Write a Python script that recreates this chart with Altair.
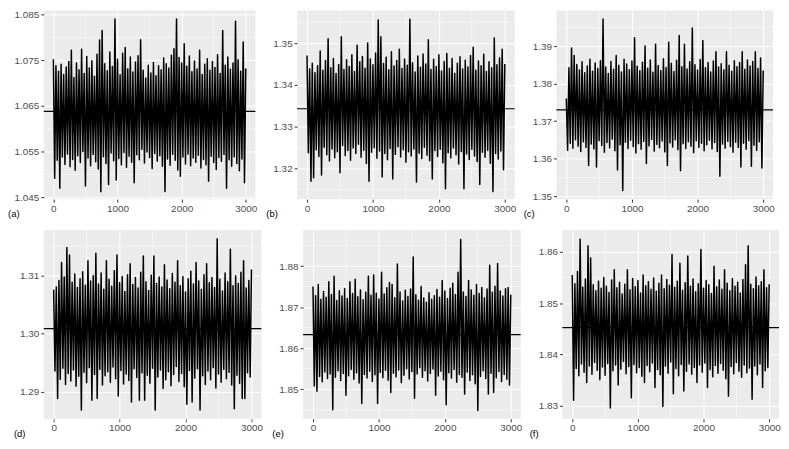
import altair as alt
import pandas as pd

# ---------------- data ----------------
X_TICKS = [0, 1000, 2000, 3000]
X_MINOR = [500, 1500, 2500]
STEP = 20  # iteration spacing of the sampled trace values

TAGS = ["(a)", "(b)", "(c)", "(d)", "(e)", "(f)"]
MEANS = [1.0638, 1.3343, 1.3730, 1.3008, 1.8633, 1.8452]
Y_DOMAINS = [[1.0446, 1.0859], [1.3127, 1.3578], [1.3492, 1.3995],
             [1.2853, 1.3178], [1.8428, 1.8888], [1.8274, 1.8643]]
Y_TICKS = [[1.045, 1.055, 1.065, 1.075, 1.085],
           [1.32, 1.33, 1.34, 1.35],
           [1.35, 1.36, 1.37, 1.38, 1.39],
           [1.29, 1.30, 1.31],
           [1.85, 1.86, 1.87, 1.88],
           [1.83, 1.84, 1.85, 1.86]]
Y_MINOR = [[1.050, 1.060, 1.070, 1.080],
           [1.315, 1.325, 1.335, 1.345, 1.355],
           [1.355, 1.365, 1.375, 1.385, 1.395],
           [1.285, 1.295, 1.305, 1.315],
           [1.845, 1.855, 1.865, 1.875, 1.885],
           [1.835, 1.845, 1.855]]
Y_FORMATS = [".3f", ".2f", ".2f", ".2f", ".2f", ".2f"]

# upper excursions (iterations 0, 40, ..., 3000) and lower excursions (20, 60, ..., 2980)
a_hi = [1.0752, 1.0738, 1.0726, 1.0741, 1.0719, 1.0735, 1.0747, 1.0772, 1.0712, 1.0744,
        1.0729, 1.0774, 1.0721, 1.0758, 1.0733, 1.0749, 1.0715, 1.0763, 1.0794, 1.0815,
        1.0742, 1.0727, 1.0768, 1.0736, 1.0840, 1.0752, 1.0718, 1.0765, 1.0778, 1.0731,
        1.0757, 1.0724, 1.0746, 1.0760, 1.0795, 1.0728, 1.0711, 1.0739, 1.0722, 1.0745,
        1.0716, 1.0738, 1.0729, 1.0755, 1.0742, 1.0733, 1.0761, 1.0775, 1.0840, 1.0756,
        1.0744, 1.0786, 1.0737, 1.0759, 1.0725, 1.0748, 1.0731, 1.0772, 1.0719, 1.0741,
        1.0753, 1.0728, 1.0747, 1.0734, 1.0762, 1.0721, 1.0815, 1.0739, 1.0757, 1.0730,
        1.0744, 1.0835, 1.0751, 1.0726, 1.0790, 1.0732]
a_lo = [1.0492, 1.0531, 1.0470, 1.0538, 1.0522, 1.0545, 1.0517, 1.0533, 1.0509, 1.0541,
        1.0526, 1.0550, 1.0475, 1.0536, 1.0519, 1.0544, 1.0528, 1.0512, 1.0462, 1.0539,
        1.0524, 1.0478, 1.0547, 1.0530, 1.0488, 1.0535, 1.0521, 1.0548, 1.0516, 1.0540,
        1.0527, 1.0482, 1.0543, 1.0532, 1.0555, 1.0525, 1.0549, 1.0537, 1.0513, 1.0546,
        1.0529, 1.0541, 1.0518, 1.0463, 1.0534, 1.0520, 1.0544, 1.0531, 1.0510, 1.0496,
        1.0538, 1.0523, 1.0545, 1.0519, 1.0536, 1.0527, 1.0542, 1.0514, 1.0533, 1.0521,
        1.0485, 1.0540, 1.0526, 1.0511, 1.0537, 1.0529, 1.0544, 1.0470, 1.0532, 1.0518,
        1.0539, 1.0524, 1.0508, 1.0534, 1.0482]

b_hi = [1.3470, 1.3438, 1.3452, 1.3429, 1.3446, 1.3481, 1.3435, 1.3458, 1.3510, 1.3441,
        1.3463, 1.3427, 1.3449, 1.3515, 1.3437, 1.3460, 1.3444, 1.3472, 1.3432, 1.3495,
        1.3455, 1.3468, 1.3440, 1.3500, 1.3462, 1.3448, 1.3476, 1.3555, 1.3515, 1.3451,
        1.3466, 1.3436, 1.3479, 1.3445, 1.3458, 1.3485, 1.3439, 1.3462, 1.3447, 1.3557,
        1.3453, 1.3431, 1.3469, 1.3442, 1.3474, 1.3450, 1.3508, 1.3437, 1.3461, 1.3444,
        1.3472, 1.3433, 1.3456, 1.3475, 1.3440, 1.3463, 1.3428, 1.3452, 1.3467, 1.3438,
        1.3459, 1.3443, 1.3470, 1.3490, 1.3435, 1.3457, 1.3446, 1.3473, 1.3432, 1.3455,
        1.3441, 1.3512, 1.3448, 1.3464, 1.3485, 1.3450]
b_lo = [1.3238, 1.3170, 1.3178, 1.3245, 1.3229, 1.3185, 1.3251, 1.3233, 1.3218, 1.3247,
        1.3226, 1.3240, 1.3190, 1.3255, 1.3231, 1.3243, 1.3220, 1.3249, 1.3236, 1.3258,
        1.3227, 1.3244, 1.3212, 1.3170, 1.3239, 1.3250, 1.3225, 1.3242, 1.3180, 1.3236,
        1.3221, 1.3248, 1.3175, 1.3234, 1.3252, 1.3228, 1.3245, 1.3215, 1.3240, 1.3230,
        1.3247, 1.3168, 1.3237, 1.3224, 1.3251, 1.3232, 1.3219, 1.3175, 1.3243, 1.3229,
        1.3246, 1.3214, 1.3152, 1.3238, 1.3226, 1.3249, 1.3233, 1.3211, 1.3241, 1.3152,
        1.3235, 1.3222, 1.3246, 1.3230, 1.3217, 1.3162, 1.3239, 1.3227, 1.3244, 1.3213,
        1.3145, 1.3236, 1.3223, 1.3242, 1.3197]

c_hi = [1.3760, 1.3842, 1.3895, 1.3875, 1.3851, 1.3836, 1.3858, 1.3829, 1.3847, 1.3865,
        1.3833, 1.3855, 1.3840, 1.3861, 1.3972, 1.3844, 1.3827, 1.3859, 1.3838, 1.3875,
        1.3849, 1.3831, 1.3865, 1.3852, 1.3837, 1.3860, 1.3922, 1.3846, 1.3834, 1.3857,
        1.3900, 1.3841, 1.3863, 1.3830, 1.3905, 1.3848, 1.3835, 1.3866, 1.3843, 1.3910,
        1.3854, 1.3832, 1.3862, 1.3928, 1.3845, 1.3905, 1.3839, 1.3858, 1.3948, 1.3850,
        1.3836, 1.3864, 1.3915, 1.3842, 1.3856, 1.3831, 1.3860, 1.3885, 1.3844, 1.3853,
        1.3837, 1.3885, 1.3849, 1.3833, 1.3861, 1.3845, 1.3856, 1.3885, 1.3838, 1.3863,
        1.3847, 1.3859, 1.3885, 1.3840, 1.3868, 1.3835]
c_lo = [1.3622, 1.3641, 1.3628, 1.3650, 1.3633, 1.3619, 1.3645, 1.3630, 1.3582, 1.3639,
        1.3626, 1.3578, 1.3648, 1.3635, 1.3617, 1.3643, 1.3629, 1.3652, 1.3621, 1.3570,
        1.3637, 1.3515, 1.3644, 1.3627, 1.3649, 1.3632, 1.3615, 1.3640, 1.3625, 1.3646,
        1.3587, 1.3634, 1.3651, 1.3620, 1.3638, 1.3629, 1.3647, 1.3618, 1.3582, 1.3642,
        1.3631, 1.3650, 1.3624, 1.3568, 1.3640, 1.3627, 1.3645, 1.3633, 1.3616, 1.3648,
        1.3630, 1.3641, 1.3621, 1.3637, 1.3649, 1.3626, 1.3643, 1.3619, 1.3553, 1.3639,
        1.3628, 1.3646, 1.3632, 1.3617, 1.3644, 1.3630, 1.3578, 1.3641, 1.3625, 1.3648,
        1.3580, 1.3636, 1.3622, 1.3645, 1.3575]

d_hi = [1.3075, 1.3080, 1.3091, 1.3122, 1.3097, 1.3148, 1.3135, 1.3088, 1.3102, 1.3079,
        1.3094, 1.3106, 1.3083, 1.3125, 1.3090, 1.3099, 1.3138, 1.3085, 1.3104, 1.3076,
        1.3125, 1.3093, 1.3081, 1.3108, 1.3135, 1.3087, 1.3098, 1.3072, 1.3101, 1.3120,
        1.3084, 1.3096, 1.3078, 1.3105, 1.3133, 1.3089, 1.3074, 1.3100, 1.3133, 1.3086,
        1.3097, 1.3080, 1.3118, 1.3092, 1.3077, 1.3103, 1.3088, 1.3125, 1.3082, 1.3098,
        1.3071, 1.3094, 1.3107, 1.3085, 1.3122, 1.3090, 1.3076, 1.3101, 1.3120, 1.3087,
        1.3096, 1.3079, 1.3163, 1.3093, 1.3073, 1.3104, 1.3089, 1.3145, 1.3082, 1.3099,
        1.3086, 1.3105, 1.3125, 1.3078, 1.3091, 1.3110]
d_lo = [1.2935, 1.2888, 1.2921, 1.2940, 1.2912, 1.2931, 1.2918, 1.2937, 1.2909, 1.2926,
        1.2868, 1.2933, 1.2915, 1.2941, 1.2885, 1.2929, 1.2888, 1.2938, 1.2911, 1.2927,
        1.2934, 1.2916, 1.2942, 1.2922, 1.2892, 1.2936, 1.2913, 1.2930, 1.2919, 1.2882,
        1.2939, 1.2924, 1.2885, 1.2932, 1.2885, 1.2928, 1.2914, 1.2940, 1.2868, 1.2925,
        1.2937, 1.2905, 1.2920, 1.2934, 1.2910, 1.2929, 1.2943, 1.2917, 1.2931, 1.2908,
        1.2878, 1.2936, 1.2882, 1.2923, 1.2939, 1.2868, 1.2927, 1.2912, 1.2935, 1.2920,
        1.2941, 1.2906, 1.2930, 1.2916, 1.2938, 1.2922, 1.2933, 1.2911, 1.2870, 1.2928,
        1.2914, 1.2888, 1.2888, 1.2932, 1.2925]

e_hi = [1.8750, 1.8728, 1.8755, 1.8719, 1.8738, 1.8724, 1.8762, 1.8731, 1.8775, 1.8716,
        1.8740, 1.8727, 1.8745, 1.8721, 1.8762, 1.8733, 1.8768, 1.8725, 1.8742, 1.8718,
        1.8736, 1.8775, 1.8729, 1.8778, 1.8734, 1.8720, 1.8785, 1.8732, 1.8747, 1.8760,
        1.8755, 1.8723, 1.8805, 1.8737, 1.8715, 1.8741, 1.8726, 1.8744, 1.8822, 1.8730,
        1.8717, 1.8750, 1.8722, 1.8712, 1.8735, 1.8719, 1.8728, 1.8743, 1.8724, 1.8765,
        1.8739, 1.8721, 1.8746, 1.8758, 1.8731, 1.8785, 1.8865, 1.8737, 1.8726, 1.8765,
        1.8742, 1.8729, 1.8755, 1.8733, 1.8748, 1.8722, 1.8744, 1.8802, 1.8736, 1.8751,
        1.8806, 1.8739, 1.8727, 1.8745, 1.8748, 1.8730]
e_lo = [1.8508, 1.8495, 1.8531, 1.8518, 1.8542, 1.8526, 1.8537, 1.8450, 1.8529, 1.8545,
        1.8521, 1.8538, 1.8485, 1.8533, 1.8548, 1.8524, 1.8540, 1.8515, 1.8465, 1.8536,
        1.8527, 1.8544, 1.8519, 1.8535, 1.8465, 1.8541, 1.8528, 1.8546, 1.8522, 1.8492,
        1.8539, 1.8530, 1.8547, 1.8516, 1.8534, 1.8550, 1.8525, 1.8543, 1.8478, 1.8537,
        1.8552, 1.8529, 1.8545, 1.8520, 1.8538, 1.8549, 1.8485, 1.8532, 1.8544, 1.8523,
        1.8462, 1.8540, 1.8527, 1.8548, 1.8517, 1.8536, 1.8529, 1.8488, 1.8542, 1.8521,
        1.8535, 1.8513, 1.8448, 1.8531, 1.8545, 1.8526, 1.8488, 1.8539, 1.8492, 1.8528,
        1.8543, 1.8519, 1.8536, 1.8524, 1.8510]

f_hi = [1.8555, 1.8538, 1.8562, 1.8625, 1.8531, 1.8547, 1.8612, 1.8588, 1.8536, 1.8524,
        1.8543, 1.8529, 1.8550, 1.8533, 1.8521, 1.8545, 1.8565, 1.8530, 1.8541, 1.8518,
        1.8537, 1.8565, 1.8526, 1.8548, 1.8532, 1.8544, 1.8520, 1.8555, 1.8534, 1.8542,
        1.8527, 1.8549, 1.8523, 1.8539, 1.8555, 1.8528, 1.8546, 1.8535, 1.8595, 1.8531,
        1.8543, 1.8578, 1.8525, 1.8540, 1.8592, 1.8533, 1.8547, 1.8522, 1.8538, 1.8605,
        1.8529, 1.8544, 1.8536, 1.8519, 1.8572, 1.8532, 1.8545, 1.8527, 1.8565, 1.8539,
        1.8524, 1.8548, 1.8533, 1.8541, 1.8520, 1.8546, 1.8575, 1.8612, 1.8537, 1.8528,
        1.8551, 1.8534, 1.8542, 1.8565, 1.8530, 1.8537]
f_lo = [1.8310, 1.8372, 1.8358, 1.8381, 1.8365, 1.8345, 1.8377, 1.8361, 1.8384, 1.8369,
        1.8350, 1.8375, 1.8359, 1.8382, 1.8295, 1.8368, 1.8379, 1.8340, 1.8371, 1.8386,
        1.8362, 1.8376, 1.8315, 1.8380, 1.8364, 1.8374, 1.8357, 1.8345, 1.8378, 1.8366,
        1.8383, 1.8335, 1.8370, 1.8360, 1.8298, 1.8377, 1.8363, 1.8385, 1.8323, 1.8372,
        1.8358, 1.8380, 1.8328, 1.8367, 1.8381, 1.8361, 1.8374, 1.8345, 1.8379, 1.8365,
        1.8383, 1.8335, 1.8370, 1.8356, 1.8378, 1.8363, 1.8382, 1.8369, 1.8352, 1.8318,
        1.8376, 1.8362, 1.8384, 1.8367, 1.8355, 1.8379, 1.8364, 1.8373, 1.8312, 1.8377,
        1.8360, 1.8381, 1.8335, 1.8368, 1.8374]

HIS = [a_hi, b_hi, c_hi, d_hi, e_hi, f_hi]
LOS = [a_lo, b_lo, c_lo, d_lo, e_lo, f_lo]

# ---------------- layout ----------------
WIDTHS = [213, 219, 218, 219, 219, 218]
HEIGHT = 190
TAG_DX = [36, 31, 33, 30, 31, 33]
FONT = "Liberation Sans"


def trace_frame(hi, lo):
    xs, ys = [], []
    for k in range(len(lo)):
        xs += [2 * STEP * k, 2 * STEP * k + STEP]
        ys += [hi[k], lo[k]]
    xs.append(2 * STEP * len(lo))
    ys.append(hi[len(lo)])
    return pd.DataFrame({"x": xs, "y": ys})


def panel(i):
    xscale = alt.Scale(domain=[-150, 3150], nice=False, zero=False)
    yscale = alt.Scale(domain=Y_DOMAINS[i], nice=False, zero=False)
    xaxis = alt.Axis(values=X_TICKS, format="d", title=None, grid=True,
                     gridColor="white", gridWidth=1.0, domain=False,
                     tickColor="#333333", tickSize=3, tickWidth=1,
                     labelColor="#4D4D4D", labelFontSize=10, labelFont=FONT,
                     labelPadding=1, labelFlush=False, labelOverlap=False)
    yaxis = alt.Axis(values=Y_TICKS[i], format=Y_FORMATS[i], title=None, grid=True,
                     gridColor="white", gridWidth=1.0, domain=False,
                     tickColor="#333333", tickSize=3, tickWidth=1,
                     labelColor="#4D4D4D", labelFontSize=10, labelFont=FONT,
                     labelPadding=2, labelFlush=False, labelOverlap=False)
    W = WIDTHS[i]

    trace = trace_frame(HIS[i], LOS[i])
    minor_x = alt.Chart(pd.DataFrame({"x": X_MINOR})).mark_rule(
        color="white", strokeWidth=0.5).encode(
        x=alt.X("x:Q", scale=xscale, axis=xaxis))
    minor_y = alt.Chart(pd.DataFrame({"y": Y_MINOR[i]})).mark_rule(
        color="white", strokeWidth=0.5).encode(
        y=alt.Y("y:Q", scale=yscale, axis=yaxis))
    line = alt.Chart(trace).mark_line(
        color="black", strokeWidth=1.5, strokeJoin="round").encode(
        x=alt.X("x:Q", scale=xscale, axis=xaxis),
        y=alt.Y("y:Q", scale=yscale, axis=yaxis))
    hline = alt.Chart(pd.DataFrame({"y": [MEANS[i]]})).mark_rule(
        color="black", strokeWidth=1.2).encode(
        y=alt.Y("y:Q", scale=yscale, axis=yaxis))
    tag = alt.Chart(pd.DataFrame({"t": [TAGS[i]]})).mark_text(
        align="left", baseline="middle", fontSize=9.5, font=FONT,
        color="black").encode(
        x=alt.value(-TAG_DX[i]), y=alt.value(HEIGHT + 15), text="t:N")
    return alt.layer(minor_x, minor_y, line, hline, tag).properties(
        width=W, height=HEIGHT)


row1 = alt.hconcat(panel(0), panel(1), panel(2), spacing=42, bounds="flush")
row2 = alt.hconcat(panel(3), panel(4), panel(5), spacing=42, bounds="flush")

chart = alt.vconcat(row1, row2, spacing=10).properties(
    padding=0, background="white"
).configure_view(fill="#EBEBEB", stroke=None, strokeWidth=0)

chart.save("out.html", embed_options={"renderer": "svg", "actions": False})
